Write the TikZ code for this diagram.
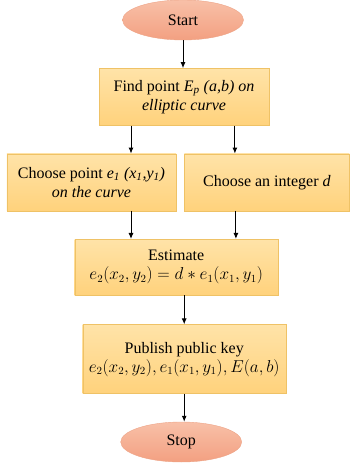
\documentclass[tikz,border=0pt]{standalone}
\usepackage{fontspec}
\setmainfont{Liberation Serif}
\usepackage{xcolor}
\usepackage{tikz}
\usetikzlibrary{positioning,arrows.meta,shapes.geometric}
\definecolor{boxtop}{HTML}{FFE3A8}
\definecolor{boxbot}{HTML}{FFD27C}
\definecolor{boxline}{HTML}{EFC266}
\definecolor{ovaltop}{HTML}{F8C0A8}
\definecolor{ovalbot}{HTML}{F3A081}
\definecolor{ovalline}{HTML}{EDA487}
\tikzset{
    keyterm/.style={draw=ovalline, ellipse, top color=ovaltop, bottom color=ovalbot, minimum width=121bp, minimum height=40bp, inner sep=0pt, font=\fontsize{16bp}{19bp}\selectfont},
    keystep/.style={draw=boxline, rectangle, top color=boxtop, bottom color=boxbot, align=center, inner sep=0pt, font=\fontsize{16bp}{19bp}\selectfont},
    keyarrow/.style={draw, -{Latex[length=6bp,width=5bp]}, line width=1bp}
}
\begin{document}
\begin{tikzpicture}[x=1bp, y=1bp, node distance=28bp]
    \useasboundingbox (0,0) rectangle (350,-464);
    \node[keyterm] (start) at (183,-20) {Start};
    \node[keystep, minimum width=170bp, minimum height=57bp, below=of start, xshift=1bp] (findpt) {Find point \textit{E\textsubscript{p} (a,b) on}\\ \textit{elliptic curve}};
    \node[keystep, minimum width=169bp, minimum height=57bp, below=of findpt, xshift=-92.5bp] (pickpt) {Choose point \textit{e\textsubscript{1} (x\textsubscript{1},y\textsubscript{1})}\\ \textit{on the curve}};
    \node[keystep, minimum width=165bp, minimum height=57bp, right=8bp of pickpt] (pickd) {Choose an integer \textit{d}};
    \node[keystep, minimum width=203bp, minimum height=56bp, below=of pickpt.south east] (estim) {Estimate\\ $e_2(x_2,y_2)=d*e_1(x_1,y_1)$};
    \node[keystep, minimum width=203bp, minimum height=69bp, below=29bp of estim, xshift=8bp] (publ) {Publish public key\\ $e_2(x_2,y_2),e_1(x_1,y_1),E(a,b)$};
    \node[keyterm, below=28bp of publ, xshift=-3bp] (stop) {Stop};

    \draw[keyarrow] (start) -- (start |- findpt.north);
    \draw[keyarrow] ([xshift=39.5bp]pickpt.north |- findpt.south) -- ([xshift=39.5bp]pickpt.north);
    \draw[keyarrow] ([xshift=-32bp]pickd.north |- findpt.south) -- ([xshift=-32bp]pickd.north);
    \draw[keyarrow] ([xshift=39.5bp]pickpt.south) -- ([xshift=39.5bp]pickpt.south |- estim.north);
    \draw[keyarrow] ([xshift=-31bp]pickd.south) -- ([xshift=-31bp]pickd.south |- estim.north);
    \draw[keyarrow] (publ.north |- estim.south) -- (publ.north);
    \draw[keyarrow] (publ.south) -- (publ.south |- stop.north);
\end{tikzpicture}
\end{document}
